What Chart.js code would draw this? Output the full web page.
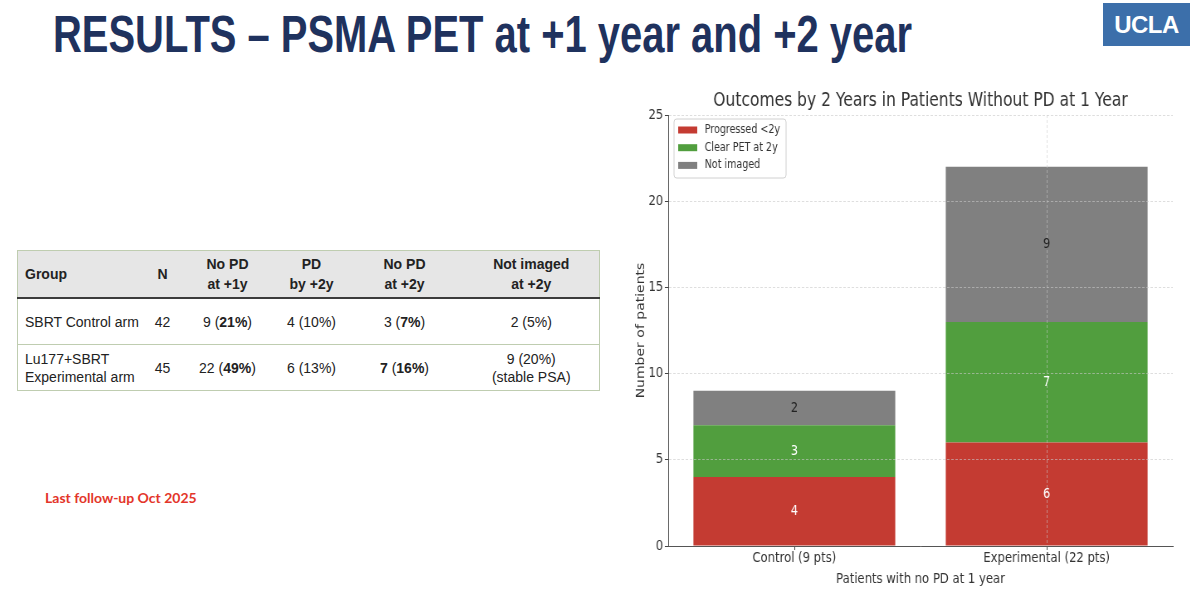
<!DOCTYPE html>
<html lang="en">
<head>
    <meta charset="UTF-8">
    <meta name="viewport" content="width=device-width, initial-scale=1.0">
    <title>RESULTS – PSMA PET at +1 year and +2 year</title>
    <script src="https://cdn.jsdelivr.net/npm/chart.js"></script>
    <style>
        html, body { margin: 0; padding: 0; background: #fff; }
        body { width: 1200px; height: 598px; position: relative; overflow: hidden; font-family: "Liberation Sans", Arial, sans-serif; }
        #titolo { position: absolute; left: 53px; top: 9px; margin: 0; font-family: "Liberation Sans Narrow", "Liberation Sans", Arial, sans-serif; font-weight: bold; font-size: 51px; line-height: 51px; color: #1f325e; white-space: nowrap; transform-origin: 0 0; }
        #logo { position: absolute; left: 1103px; top: 3px; width: 87px; height: 43px; background: #3c6faa; color: #fff; font-weight: bold; font-size: 24px; line-height: 43px; text-align: center; letter-spacing: -0.5px; }
        #tabella { position: absolute; left: 17px; top: 250px; width: 582px; border-collapse: collapse; table-layout: fixed; border: 1px solid #bfcdb0; font-size: 14px; color: #222; }
        #tabella th { background: #e6e6e6; height: 46px; padding: 0; line-height: 20px; font-weight: bold; text-align: center; border-bottom: 2px solid #3c3c3c; }
        #tabella td { height: 45px; padding: 0; line-height: 18px; text-align: center; border-bottom: 1px solid #bfcdb0; }
        #tabella .gruppo { text-align: left; padding-left: 7px; }
        #nota { position: absolute; left: 45px; top: 489px; font-family: Lato, "Open Sans", sans-serif; font-weight: bold; font-size: 14px; color: #e3352a; }
        #contenitore { position: absolute; left: 630px; top: 84px; width: 700px; height: 510px; transform: scaleX(0.83); transform-origin: 0 0; }
    </style>
</head>
<body>

    <h1 id="titolo">RESULTS – PSMA PET at +1 year and +2 year</h1>
    <div id="logo">UCLA</div>

    <table id="tabella">
        <colgroup>
            <col style="width:130px"><col style="width:30px"><col style="width:100px">
            <col style="width:68px"><col style="width:118px"><col style="width:136px">
        </colgroup>
        <tr>
            <th class="gruppo">Group</th><th>N</th><th>No PD<br>at +1y</th>
            <th>PD<br>by +2y</th><th>No PD<br>at +2y</th><th>Not imaged<br>at +2y</th>
        </tr>
        <tr>
            <td class="gruppo">SBRT Control arm</td><td>42</td><td>9 (<b>21%</b>)</td>
            <td>4 (10%)</td><td>3 (<b>7%</b>)</td><td>2 (5%)</td>
        </tr>
        <tr>
            <td class="gruppo">Lu177+SBRT<br>Experimental arm</td><td>45</td><td>22 (<b>49%</b>)</td>
            <td>6 (13%)</td><td><b>7</b> (<b>16%</b>)</td><td>9 (20%)<br>(stable PSA)</td>
        </tr>
    </table>

    <div id="nota">Last follow-up Oct 2025</div>

    <div id="contenitore">
        <canvas id="graficoEsiti"></canvas>
    </div>

    <script>
        // dati del grafico
        const categories = ['Control (9 pts)', 'Experimental (22 pts)'];
        const seriesLabels = ['Progressed <2y', 'Clear PET at 2y', 'Not imaged'];
        const progressed = [4, 6];
        const clearPet = [3, 7];
        const notImaged = [2, 9];
        const yTicks = [0, 5, 10, 15, 20, 25];
        const chartTitle = 'Outcomes by 2 Years in Patients Without PD at 1 Year';

        const coloriSerie = ['#c43b32', '#519e3e', '#808080'];
        const coloriEtichette = ['#ffffff', '#ffffff', '#222222'];
        const coloreGriglia = 'rgba(200, 200, 200, 0.6)';
        const fontBase = 'DejaVu Sans, sans-serif';

        // il titolo della slide e' compresso come nell'originale
        const titolo = document.getElementById('titolo');
        titolo.style.transform = `scaleX(${859 / titolo.offsetWidth})`;

        // titolo, legenda e numeri dentro le barre
        const overlay = {
            id: 'overlay',
            afterDraw(chart) {
                const c = chart.ctx;
                const area = chart.chartArea;
                c.save();

                // numeri nei segmenti
                c.font = `13.5px ${fontBase}`;
                c.textAlign = 'center';
                c.textBaseline = 'middle';
                chart.data.datasets.forEach((ds, i) => {
                    chart.getDatasetMeta(i).data.forEach((bar, j) => {
                        const p = bar.getProps(['x', 'y', 'base'], true);
                        c.fillStyle = coloriEtichette[i];
                        c.fillText(String(ds.data[j]), p.x, (p.y + p.base) / 2);
                    });
                });

                // titolo del grafico
                c.fillStyle = '#333';
                c.font = `18.7px ${fontBase}`;
                c.fillText(chartTitle, (area.left + area.right) / 2, 17);

                // legenda in alto a sinistra
                const lx = area.left + 7, ly = area.top + 4, lw = 135, lh = 59;
                c.beginPath();
                c.roundRect(lx, ly, lw, lh, 3);
                c.fillStyle = 'rgba(255, 255, 255, 0.85)';
                c.fill();
                c.strokeStyle = '#d0d0d0';
                c.lineWidth = 1;
                c.stroke();
                c.font = `11.5px ${fontBase}`;
                c.textAlign = 'left';
                chart.data.datasets.forEach((ds, i) => {
                    const cy = ly + 11 + i * 17.7;
                    c.fillStyle = ds.backgroundColor;
                    c.fillRect(lx + 5, cy - 3.5, 23, 7);
                    c.fillStyle = '#333';
                    c.fillText(ds.label, lx + 37, cy);
                });

                c.restore();
            }
        };

        const colGriglia = (ctx) => (ctx.tick && ctx.tick.value === 0 ? 'rgba(0,0,0,0)' : coloreGriglia);

        const ctx = document.getElementById('graficoEsiti').getContext('2d');
        const chart = new Chart(ctx, {
            type: 'bar',
            data: {
                labels: categories,
                datasets: [
                    { label: seriesLabels[0], data: progressed, backgroundColor: coloriSerie[0], barPercentage: 0.8, categoryPercentage: 1.0, borderWidth: 0 },
                    { label: seriesLabels[1], data: clearPet, backgroundColor: coloriSerie[1], barPercentage: 0.8, categoryPercentage: 1.0, borderWidth: 0 },
                    { label: seriesLabels[2], data: notImaged, backgroundColor: coloriSerie[2], barPercentage: 0.8, categoryPercentage: 1.0, borderWidth: 0 }
                ]
            },
            options: {
                responsive: true,
                maintainAspectRatio: false,
                animation: false,
                layout: { padding: { top: 31, right: 46, bottom: 0, left: 0 } },
                plugins: {
                    legend: { display: false },
                    title: { display: false },
                    tooltip: { enabled: false }
                },
                scales: {
                    x: {
                        stacked: true,
                        grid: { offset: false, z: 1, color: colGriglia, tickColor: '#444', tickLength: 4 },
                        border: { color: '#555', width: 1, dash: [3, 2], z: 1 },
                        ticks: { color: '#333', font: { family: fontBase, size: 14 }, padding: 0 },
                        title: { display: true, text: 'Patients with no PD at 1 year', color: '#333', font: { family: fontBase, size: 14 }, padding: { top: 0, bottom: 6 } },
                        afterFit: (s) => { s.height = 48; }
                    },
                    y: {
                        stacked: true,
                        min: 0,
                        max: 25,
                        afterBuildTicks: (s) => { s.ticks = yTicks.map(v => ({ value: v })); },
                        grid: { z: 1, color: colGriglia, tickColor: '#444', tickLength: 4 },
                        border: { color: '#555', width: 1, dash: [3, 2], z: 1 },
                        ticks: { color: '#333', font: { family: fontBase, size: 14 }, padding: 2 },
                        title: { display: true, text: 'Number of patients', color: '#333', font: { family: fontBase, size: 14 }, padding: { top: 5, bottom: 0 } },
                        afterFit: (s) => { s.width = 46; }
                    }
                }
            },
            plugins: [overlay]
        });
    </script>

</body>
</html>
